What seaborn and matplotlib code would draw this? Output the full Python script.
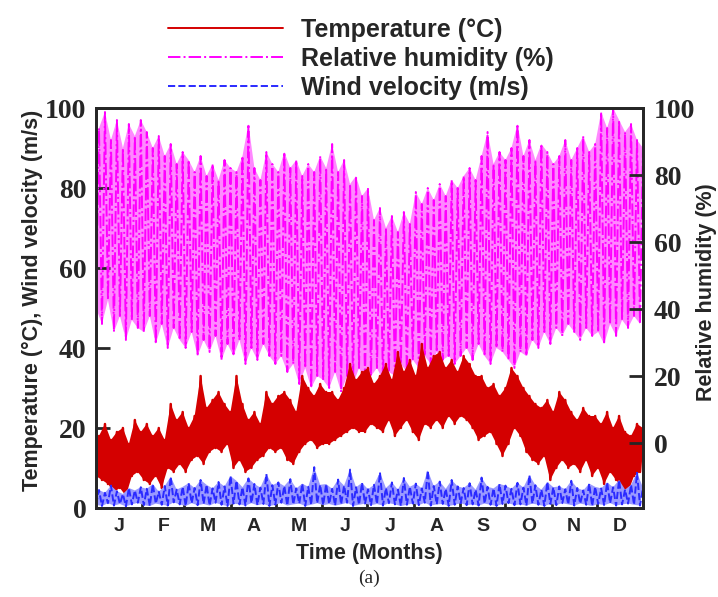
import numpy as np
import pandas as pd
import matplotlib
matplotlib.use("Agg")
import matplotlib.pyplot as plt
import seaborn as sns

sns.set_style("ticks")
plt.rcParams["font.family"] = ["Liberation Sans", "DejaVu Sans"]

# ---- data (each series as alternating local lows / highs, ~4-day pairs) ----
temp_low = [8, 7, 6, 4, 5, 3, 8, 9, 7, 6, 8, 5, 10, 9, 11, 9, 12, 13, 11, 14,
            15, 14, 16, 10, 12, 9, 10, 12, 13, 15, 14, 15, 12, 11, 14, 16, 17, 15, 16, 16,
            17, 18, 19, 20, 19, 19, 21, 20, 19, 22, 18, 20, 22, 19, 17, 21, 20, 22, 20, 23,
            21, 23, 22, 20, 17, 18, 19, 16, 13, 16, 20, 18, 14, 12, 11, 13, 7, 10, 12, 10,
            11, 9, 12, 8, 10, 6, 9, 7, 5, 4, 8, 9]
temp_high = [18, 21, 17, 19, 20, 16, 22, 19, 21, 18, 20, 17, 26, 22, 24, 20, 23, 33, 25, 27,
             29, 26, 24, 33, 26, 22, 24, 21, 29, 26, 28, 29, 27, 24, 33, 30, 28, 31, 29, 29,
             27, 30, 36, 32, 34, 35, 31, 33, 36, 32, 39, 34, 37, 33, 41, 35, 38, 39, 35, 37,
             34, 38, 36, 33, 33, 30, 31, 28, 30, 35, 33, 30, 28, 26, 25, 27, 24, 29, 27, 24,
             22, 25, 23, 23, 21, 24, 20, 23, 19, 18, 21, 20]
hum_low = [50, 46, 52, 44, 48, 42, 47, 45, 44, 48, 41, 46, 40, 45, 42, 40, 44, 38, 42, 39,
           43, 37, 41, 38, 42, 36, 40, 37, 41, 38, 36, 38, 34, 36, 31, 35, 30, 33, 32, 30,
           34, 29, 33, 31, 35, 32, 33, 35, 32, 34, 33, 36, 34, 37, 35, 38, 36, 39, 37, 38,
           36, 38, 40, 37, 41, 38, 36, 40, 39, 37, 35, 39, 38, 42, 40, 44, 41, 45, 43, 46,
           44, 42, 45, 43, 44, 41, 46, 43, 47, 45, 48, 46]
hum_high = [95, 99, 92, 97, 90, 96, 93, 97, 94, 90, 93, 88, 91, 86, 89, 87, 84, 88, 83, 86,
            82, 87, 85, 84, 88, 96, 85, 82, 89, 86, 84, 89, 85, 87, 83, 86, 84, 88, 85, 91,
            84, 87, 81, 83, 78, 80, 72, 75, 70, 73, 69, 74, 71, 79, 76, 80, 77, 81, 78, 82,
            80, 83, 85, 82, 88, 94, 86, 89, 87, 90, 96, 88, 92, 87, 91, 89, 86, 88, 92, 87,
            90, 93, 89, 91, 99, 95, 100, 97, 94, 96, 92, 90]
wind_low = [0.8, 0.5, 1.2, 0.6, 1.0, 0.4, 0.9, 1.3, 0.7, 0.5,
            1.1, 0.8, 0.6, 1.4, 0.9, 0.5, 1.2, 0.7, 1.0, 0.6,
            1.3, 0.8, 0.5, 1.1, 0.9, 0.6, 1.2, 0.7, 1.0, 0.5,
            0.8, 1.3, 0.6, 0.9, 1.1, 0.5, 0.8, 1.2, 0.7, 1.0,
            0.6, 0.9, 1.3, 0.5, 0.8, 1.1, 0.7, 1.0, 0.6, 1.2,
            0.9, 0.5, 0.8, 1.1, 0.7, 1.3, 0.6, 0.9, 1.0, 0.5,
            0.8, 1.2, 0.7, 0.9, 0.6, 1.1, 0.8, 0.5, 1.0, 1.2,
            0.7, 0.9, 0.6, 1.1, 0.8, 0.5, 1.0, 0.7, 1.2, 0.9,
            0.6, 1.1, 0.8, 0.5, 1.0, 0.7, 1.2, 0.6, 0.9, 1.1,
            0.8, 0.6]
wind_high = [4.5, 3.8, 5.6, 4.2, 3.5, 5.0, 4.4, 5.2, 4.8, 6.0, 4.1, 5.5, 7.8, 4.6, 5.3,
             6.2, 5.0, 7.0, 5.8, 4.9, 6.5, 5.4, 8.0, 6.8, 5.2, 7.4, 6.0, 5.1, 8.5, 5.7, 6.4,
             5.5, 7.2, 4.9, 6.1, 5.3, 10.2, 5.8, 6.0, 4.8, 7.1, 5.6, 9.6, 5.2, 6.3, 4.7,
             5.8, 8.9, 5.0, 6.4, 4.6, 7.5, 5.3, 6.1, 4.9, 9.4, 5.5, 6.6, 4.8, 7.0, 5.4,
             5.0, 6.2, 4.6, 7.6, 5.3, 4.9, 6.0, 5.6, 4.8, 6.3, 5.1, 8.2, 5.7, 4.6, 6.5, 5.2,
             5.4, 4.7, 6.8, 5.0, 4.4, 6.1, 5.3, 4.9, 6.4, 5.2, 7.0, 4.6, 5.8, 8.8, 5.1]

months = ["J", "F", "M", "A", "M", "J", "J", "A", "S", "O", "N", "D"]
month_days = [31, 28, 31, 30, 31, 30, 31, 31, 30, 31, 30, 31]
y_ticks = [0, 20, 40, 60, 80, 100]


def interleave(lo, hi):
    return [v for pair in zip(lo, hi) for v in pair]


temp = interleave(temp_low, temp_high)
hum = interleave(hum_low, hum_high)
wind = interleave(wind_low, wind_high)
day = np.linspace(0, 365, len(temp))
df = pd.DataFrame({"day": day, "temp": temp, "hum": hum, "wind": wind})
low_days, high_days = day[0::2], day[1::2]


def band(ax, lo, hi, color, z):
    # polygon through the lows (forward) and highs (backward)
    xs = np.concatenate([low_days, high_days[::-1]])
    ys = np.concatenate([lo, hi[::-1]])
    ax.fill(xs, ys, color=color, lw=0, zorder=z)


# ---- figure ----
fig = plt.figure(figsize=(7.18, 5.97), dpi=100)
ax = fig.add_axes([96 / 718, 1 - 508 / 597, 547 / 718, 400 / 597])

band(ax, np.array(hum_low), np.array(hum_high), "#ff88ff", 0.5)
sns.lineplot(data=df, x="day", y="hum", ax=ax, color="#ff00ff", linestyle="-.",
             linewidth=1.4, estimator=None, zorder=1, label="Relative humidity (%)")
band(ax, np.array(temp_low), np.array(temp_high), "#d40000", 1.5)
sns.lineplot(data=df, x="day", y="temp", ax=ax, color="#d40000", linestyle="-",
             linewidth=1.8, estimator=None, zorder=2, label="Temperature (\u00b0C)")
band(ax, np.array(wind_low), np.array(wind_high), "#9a9aff", 2.5)
sns.lineplot(data=df, x="day", y="wind", ax=ax, color="#2a2aff", linestyle="--",
             linewidth=1.4, estimator=None, zorder=3, label="Wind velocity (m/s)")

ax.set_xlim(0, 365)
ax.set_ylim(0, 100)
bounds = np.cumsum([0] + month_days)
mids = (bounds[:-1] + bounds[1:]) / 2
ax.set_xticks(bounds[1:-1])
ax.set_xticklabels([])
ax.set_xticks(mids, minor=True)
ax.set_xticklabels(months, minor=True, fontsize=14, fontweight="bold")
ax.tick_params(axis="x", which="major", direction="in", length=10, width=2)
ax.tick_params(axis="x", which="minor", length=0, pad=7)
ax.set_yticks(y_ticks)
ax.set_yticklabels([str(t) for t in y_ticks], family="Liberation Serif",
                   fontweight="bold", fontsize=20)
ax.tick_params(axis="y", direction="in", length=10, width=2, pad=7)
for s in ax.spines.values():
    s.set_linewidth(2)
    s.set_visible(True)
    s.set_zorder(5)

ax.set_xlabel("Time (Months)", fontsize=15.5, fontweight="bold")
ax.xaxis.set_label_coords(0.5, -0.087)
ax.set_ylabel("Temperature (\u00b0C), Wind velocity (m/s)", fontsize=15.5, fontweight="bold")
ax.yaxis.set_label_coords(-0.097, 0.52)

ax2 = ax.twinx()
ax2.set_ylim(-19.4, 100)
ax2.set_yticks(y_ticks)
ax2.set_yticklabels([str(t) for t in y_ticks], family="Liberation Serif",
                    fontweight="bold", fontsize=20)
ax2.tick_params(axis="y", direction="in", length=10, width=2, pad=8)
ax2.set_ylabel("Relative humidity (%)", fontsize=15.5, fontweight="bold")
ax2.yaxis.set_label_coords(1.097, 0.54)
for s in ax2.spines.values():
    s.set_linewidth(2)

# legend above the plot, order: temperature, humidity, wind
handles, labels = ax.get_legend_handles_labels()
order = [1, 0, 2]
ax.get_legend().remove()
leg = fig.legend([handles[i] for i in order], [labels[i] for i in order],
                 loc="upper left", bbox_to_anchor=(168 / 718, 1 - 18 / 597),
                 frameon=False, borderpad=0, borderaxespad=0,
                 handlelength=4.6, handletextpad=0.72, labelspacing=0.2,
                 prop={"family": "Liberation Sans", "weight": "bold", "size": 18})
for ln in leg.get_lines():
    ln.set_linewidth(1.4)

fig.text(369 / 718, 1 - 578 / 597, "(a)", ha="center", va="center",
         family="Liberation Serif", fontsize=14)

fig.savefig("out.png", dpi=100)
